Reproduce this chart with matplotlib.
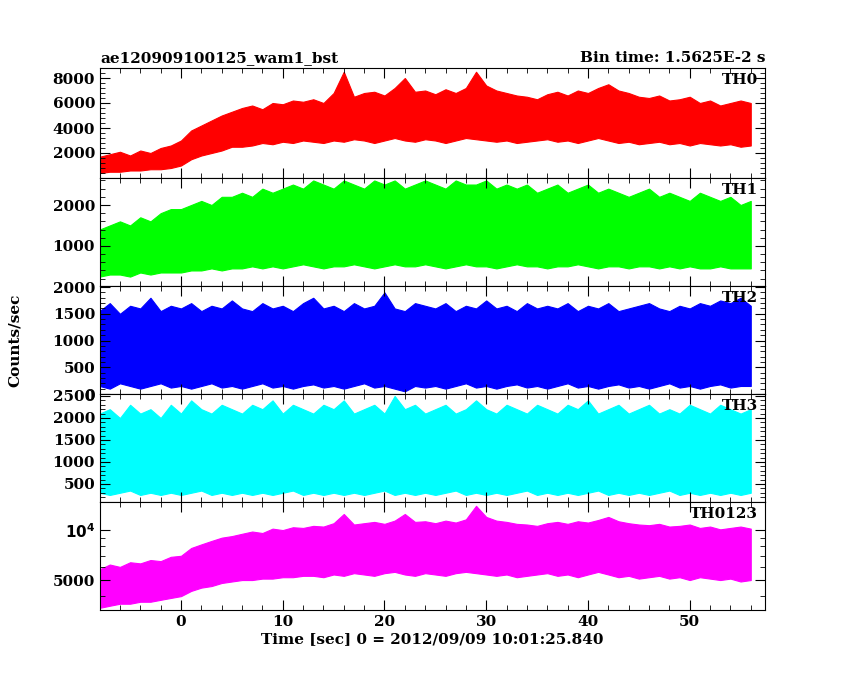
import matplotlib
matplotlib.use("Agg")
import matplotlib.pyplot as plt
import numpy as np
from matplotlib.ticker import AutoMinorLocator, FixedLocator, NullFormatter

# envelope of each light curve, one knot per second from -8 to 56 s
t = np.arange(-8, 57)

th0_hi = [1700, 1900, 2100, 1800, 2200, 2000, 2400, 2600,
          3000, 3800, 4200, 4600, 5000, 5300,
          5600, 5800, 5500, 6000, 5900, 6200, 6100, 6300, 6000, 6800,
          8500, 6500, 6800, 6900, 6600, 7200, 8000, 6900, 7000, 6700,
          7100, 6800, 7200, 8500, 7400, 7000, 6800, 6600, 6500, 6300,
          6700, 6900, 6600, 7000, 6800, 7200, 7500, 7000, 6800, 6500,
          6400, 6600, 6200, 6300, 6500, 6000, 6200, 5800, 6000, 6200, 6000]
th0_lo = [400, 500, 500, 600, 600, 700, 700, 800,
          1000, 1500, 1800, 2000, 2200, 2500,
          2500, 2600, 2800, 2700, 2900, 2800, 3000, 2900, 2800, 3000,
          2900, 3100, 3000, 2800, 3000, 3200, 3000, 2900, 3100, 3000,
          2800, 3000, 3200, 3100, 3000, 2900, 3000, 2800, 2900, 3000,
          3100, 2900, 3000, 2800, 3000, 3200, 3000, 2800, 2900, 2700,
          2800, 2900, 2700, 2800, 2600, 2800, 2700, 2600, 2700, 2500, 2600]

th1_hi = [1400, 1500, 1600, 1500, 1700, 1600, 1800, 1900,
          1900, 2000, 2100, 2000, 2200, 2200,
          2300, 2200, 2400, 2300, 2400, 2500, 2400, 2600, 2500, 2400,
          2600, 2500, 2400, 2600, 2500, 2600, 2400, 2500, 2600, 2500,
          2400, 2600, 2500, 2500, 2600, 2400, 2500, 2400, 2500, 2300,
          2400, 2500, 2300, 2400, 2500, 2300, 2400, 2300, 2200, 2300,
          2400, 2200, 2300, 2200, 2100, 2300, 2200, 2100, 2200, 2000, 2100]
th1_lo = [250, 300, 300, 250, 350, 300, 350, 350,
          350, 400, 400, 450, 400, 450,
          450, 500, 450, 500, 450, 500, 550, 500, 450, 500,
          500, 550, 500, 450, 500, 550, 500, 500, 550, 500,
          450, 500, 550, 500, 500, 450, 500, 550, 500, 500,
          450, 500, 500, 550, 500, 450, 500, 500, 450, 500,
          500, 450, 500, 450, 500, 450, 450, 500, 450, 450, 450]

th2_hi = [1550, 1700, 1500, 1650, 1600, 1800, 1550, 1650,
          1600, 1700, 1550, 1650, 1600, 1750,
          1600, 1550, 1700, 1600, 1650, 1550, 1700, 1800, 1600, 1650,
          1550, 1700, 1600, 1650, 1900, 1600, 1550, 1700, 1650, 1600,
          1700, 1550, 1650, 1600, 1750, 1600, 1650, 1550, 1700, 1600,
          1650, 1600, 1700, 1550, 1650, 1600, 1700, 1550, 1600, 1650,
          1700, 1600, 1550, 1650, 1600, 1700, 1650, 1750, 1700, 1800, 1650]
th2_lo = [150, 100, 200, 150, 100, 150, 200, 120,
          150, 100, 150, 200, 120, 150,
          100, 150, 200, 120, 150, 100, 150, 180, 120, 150,
          100, 150, 200, 120, 150, 100, 50, 150, 120, 150,
          100, 150, 200, 120, 150, 100, 150, 180, 120, 150,
          100, 150, 200, 120, 150, 100, 150, 180, 120, 150,
          100, 150, 200, 120, 150, 100, 150, 180, 120, 150, 150]

th3_hi = [2100, 2200, 2000, 2300, 2100, 2200, 2000, 2300,
          2100, 2400, 2200, 2100, 2300, 2200,
          2100, 2300, 2200, 2400, 2100, 2300, 2200, 2100, 2300, 2200,
          2400, 2100, 2200, 2300, 2100, 2500, 2200, 2300, 2100, 2200,
          2300, 2100, 2200, 2400, 2200, 2100, 2300, 2200, 2100, 2300,
          2200, 2100, 2300, 2200, 2400, 2100, 2200, 2300, 2100, 2200,
          2300, 2100, 2200, 2100, 2300, 2200, 2100, 2300, 2200, 2100, 2200]
th3_lo = [300, 250, 300, 350, 250, 300, 250, 300,
          250, 300, 350, 250, 300, 250,
          300, 250, 300, 250, 300, 350, 250, 300, 250, 300,
          250, 300, 250, 300, 350, 250, 300, 250, 300, 250,
          300, 350, 250, 300, 250, 300, 250, 300, 350, 250,
          300, 250, 300, 250, 300, 350, 250, 300, 250, 300,
          250, 300, 350, 250, 300, 250, 300, 250, 300, 250, 300]

tha_hi = [5800, 6200, 6000, 6400, 6300, 6600, 6500, 6900,
          7000, 7800, 8200, 8600, 9000, 9200,
          9500, 9800, 9600, 10200, 10000, 10400, 10300, 10600, 10500, 11000,
          12500, 10800, 11000, 11200, 10900, 11400, 12500, 11200, 11300, 11000,
          11400, 11100, 11600, 14000, 12000, 11400, 11200, 10900, 10800, 10600,
          11000, 11200, 10900, 11300, 11100, 11500, 12000, 11300, 11000, 10800,
          10700, 10900, 10500, 10600, 10800, 10300, 10500, 10100, 10300, 10500, 10200]
tha_lo = [3400, 3500, 3600, 3600, 3700, 3700, 3800, 3900,
          4000, 4300, 4500, 4600, 4800, 4900,
          5000, 5000, 5100, 5100, 5200, 5200, 5300, 5300, 5200, 5400,
          5300, 5500, 5400, 5300, 5500, 5600, 5400, 5300, 5500, 5400,
          5300, 5500, 5600, 5500, 5400, 5300, 5400, 5200, 5300, 5400,
          5500, 5300, 5400, 5200, 5400, 5600, 5400, 5200, 5300, 5100,
          5200, 5300, 5100, 5200, 5000, 5200, 5100, 5000, 5100, 4900, 5000]

panels = [
    ("TH0", th0_lo, th0_hi, "#ff0000", (0, 8800), [2000, 4000, 6000, 8000]),
    ("TH1", th1_lo, th1_hi, "#00ff00", (20, 2660), [1000, 2000]),
    ("TH2", th2_lo, th2_hi, "#0000ff", (0, 2020), [0, 500, 1000, 1500, 2000]),
    ("TH3", th3_lo, th3_hi, "#00ffff", (90, 2545), [500, 1000, 1500, 2000, 2500]),
    ("TH0123", tha_lo, tha_hi, "#ff00ff", (3300, 14760), None),
]

plt.rcParams['font.family'] = ['DejaVu Serif']
plt.rcParams['font.weight'] = 'bold'
fig = plt.figure(figsize=(8.5, 6.8), dpi=100)
left, right = 100 / 850, 765 / 850
tops = [68, 178, 286, 394, 502, 610]
axes = []
for i, (name, lo, hi, col, ylim, yt) in enumerate(panels):
    y0 = 1 - tops[i + 1] / 680
    h = (tops[i + 1] - tops[i]) / 680
    ax = fig.add_axes([left, y0, right - left, h])
    ax.fill_between(t, lo, hi, color=col, lw=0.8, edgecolor=col)
    ax.set_xlim(-7.96, 57.4)
    if yt is None:
        ax.set_yscale('log')
        ax.yaxis.set_major_locator(FixedLocator([10000]))
        ax.yaxis.set_minor_locator(FixedLocator([4000, 5000, 6000, 7000, 8000, 9000]))
        ax.yaxis.set_minor_formatter(NullFormatter())
        ax.set_yticks([5000, 10000])
        ax.set_yticklabels(['5000', r'$10^4$'])
    else:
        ax.set_yticks(yt)
        ax.yaxis.set_minor_locator(AutoMinorLocator(5))
    ax.set_ylim(*ylim)
    ax.xaxis.set_minor_locator(AutoMinorLocator(5))
    ax.tick_params(which='both', direction='in', top=True, right=True, labelsize=11)
    ax.tick_params(which='major', length=7)
    ax.tick_params(which='minor', length=3.5)
    ax.text(0.99, 0.95, name, transform=ax.transAxes, ha='right', va='top', fontsize=11)
    if i < 4:
        ax.set_xticklabels([])
    axes.append(ax)

axes[0].set_title("ae120909100125_wam1_bst", loc='left', fontsize=11, pad=4,
                  fontweight='bold')
axes[0].set_title("Bin time: 1.5625E-2 s", loc='right', fontsize=11, pad=4,
                  fontweight='bold')
axes[-1].set_xlabel("Time [sec] 0 = 2012/09/09 10:01:25.840", fontsize=11,
                    labelpad=2, fontweight='bold')
fig.text(0.018, 0.5, "Counts/sec", rotation=90, va='center', ha='center', fontsize=11)
fig.savefig("out.png", dpi=100)
